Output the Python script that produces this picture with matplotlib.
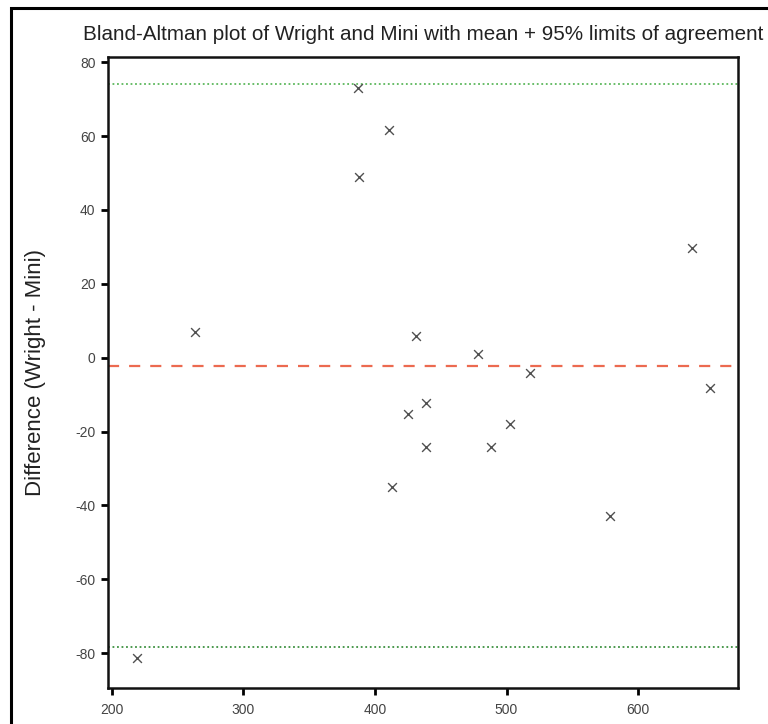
import matplotlib
matplotlib.use("Agg")
import matplotlib.pyplot as plt
from matplotlib.patches import Rectangle

plt.rcParams['font.family'] = ['Liberation Sans', 'DejaVu Sans']
plt.rcParams['axes.unicode_minus'] = False

# Data (mean of methods, difference Wright - Mini)
mean_vals = [387, 411, 388, 263, 431, 478, 518, 641, 655, 439, 425, 503, 439, 488, 413, 579, 219]
diff_vals = [73, 61.6, 48.8, 6.9, 6.0, 1.0, -4.1, 29.8, -8.1, -12.2, -15.1, -18.0, -24.2, -24.2, -35.1, -42.8, -81.3]
mean_diff = -2.3
upper_loa = 74.0
lower_loa = -78.2

x_ticks = [200, 300, 400, 500, 600]
y_ticks = [-80, -60, -40, -20, 0, 20, 40, 60, 80]

fig = plt.figure(figsize=(7.68, 7.24), dpi=100)
ax = fig.add_axes([108/768, 1-688/724, (738-108)/768, (688-57)/724])

ax.scatter(mean_vals, diff_vals, marker='x', s=40, color='#505050', linewidths=1.0, zorder=3)
ax.axhline(mean_diff, color='#ec6a50', linestyle=(0, (5, 4.5)), linewidth=1.6)
ax.axhline(upper_loa, color='#5cb85c', linestyle=(0, (1, 1.5)), linewidth=1.3)
ax.axhline(lower_loa, color='#3d9140', linestyle=(0, (1, 1.5)), linewidth=1.3)

ax.set_xlim(197, 676)
ax.set_ylim(-89.4, 81.4)
ax.set_xticks(x_ticks)
ax.set_yticks(y_ticks)
ax.tick_params(direction='out', length=5, width=2, labelsize=10, colors='black', labelcolor='#444444', pad=4)
ax.tick_params(axis='x', pad=6)
for s in ax.spines.values():
    s.set_linewidth(1.8)
    s.set_color('#111111')

ax.set_title('Bland-Altman plot of Wright and Mini with mean + 95% limits of agreement',
             fontsize=14.9, color='#222222', pad=12)
ax.set_ylabel('Difference (Wright - Mini)', fontsize=16, color='#222222', labelpad=21)

# outer frame
fig.patches.append(Rectangle((11/768, -0.05), 1.2, 1-8/724+0.05, transform=fig.transFigure,
                             fill=False, edgecolor='black', linewidth=2.2))

fig.savefig('out.png', dpi=100)
